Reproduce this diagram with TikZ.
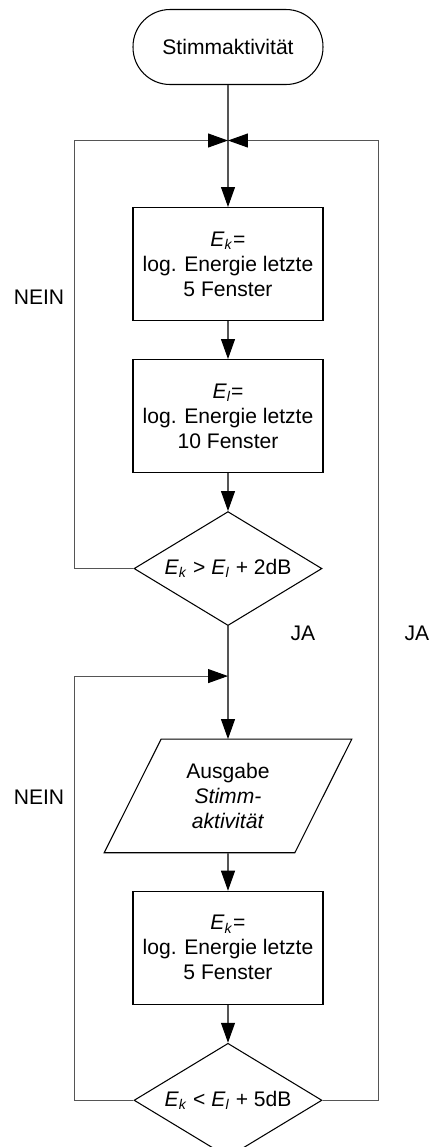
\documentclass[tikz,border=0pt]{standalone}
\usepackage{fontspec}
\setmainfont{Liberation Sans}
\usepackage{tikz}
\usetikzlibrary{shapes.geometric, arrows.meta, positioning, calc}
\definecolor{linegray}{HTML}{555555}
\newcommand{\energy}[1]{\textit{E}\textsubscript{\textit{#1}}}

\begin{document}
\begin{tikzpicture}[
  x=0.02cm, y=-0.02cm,
  node distance=0.76cm,
  every node/.style={font=\fontsize{12}{14.2}\selectfont},
  terminal/.style={
    rectangle, rounded corners=0.74cm,
    minimum width=3.8cm, minimum height=1.5cm,
    align=center, draw=black, line width=0.6pt,
  },
  process/.style={
    rectangle,
    minimum width=3.8cm, minimum height=2.26cm,
    align=center, draw=black, line width=0.6pt,
  },
  decision/.style={
    diamond, aspect=1.65, inner sep=0pt,
    minimum width=3.76cm, minimum height=2.28cm,
    align=center, draw=black, line width=0.6pt,
  },
  iobox/.style={
    rectangle,
    minimum width=3.8cm, minimum height=2.26cm,
    align=center,
  },
  flow/.style={-{Triangle[length=0.4cm, width=0.28cm, color=black]},
    line width=0.6pt, color=linegray},
  line/.style={line width=0.6pt, color=linegray},
]
\useasboundingbox (0,0) rectangle (429,1147);

% upper loop
\node[terminal] (start) at (228,47) {Stimmaktivit\"at};
\node[process, below=2.44cm of start] (energy5) {\energy{k}=\\log. Energie letzte\\5 Fenster};
\node[process, below=of energy5] (energy10) {\energy{l}=\\log. Energie letzte\\10 Fenster};
\node[decision, below=of energy10] (check2db) {\energy{k} > \energy{l} + 2dB};

% lower loop
\node[iobox, below=2.26cm of check2db] (output) {Ausgabe\\\textit{Stimm-}\\\textit{aktivit\"at}};
\node[process, below=of output] (energy5b) {\energy{k}=\\log. Energie letzte\\5 Fenster};
\node[decision, below=of energy5b] (check5db) {\energy{k} < \energy{l} + 5dB};

% parallelogram for the output
\draw[line width=0.6pt] ($(output.south west)+(-0.57cm,0)$) -- ($(output.north west)+(0.57cm,0)$)
  -- ($(output.north east)+(0.57cm,0)$) -- ($(output.south east)+(-0.57cm,0)$) -- cycle;

% junctions and rails
\coordinate[below=1.11cm of start.south] (join1);
\coordinate[below=1.0cm of check2db.south] (join2);
\coordinate (railL) at ($(check2db.west)+(-1.18cm,0)$);

% labels
\node (nein1) at (39,297) {NEIN};
\node (nein2) at (39,797) {NEIN};
\node (ja1)   at (303,633) {JA};
\node (ja2)   at (417,633) {JA};

% Arrows — main line
\draw[flow] (start) -- (energy5);
\draw[flow] (energy5) -- (energy10);
\draw[flow] (energy10) -- (check2db);
\draw[flow] (check2db) -- (output);
\draw[flow] (output) -- (energy5b);
\draw[flow] (energy5b) -- (check5db);

% Arrows — loops back
\draw[flow] (check2db.west) -- (railL) |- (join1);
\draw[flow] (check5db.east) -- ++(1.12cm,0) |- (join1);
\draw[flow] (check5db.west) -- (check5db.west -| railL) |- (join2);

\end{tikzpicture}
\end{document}
